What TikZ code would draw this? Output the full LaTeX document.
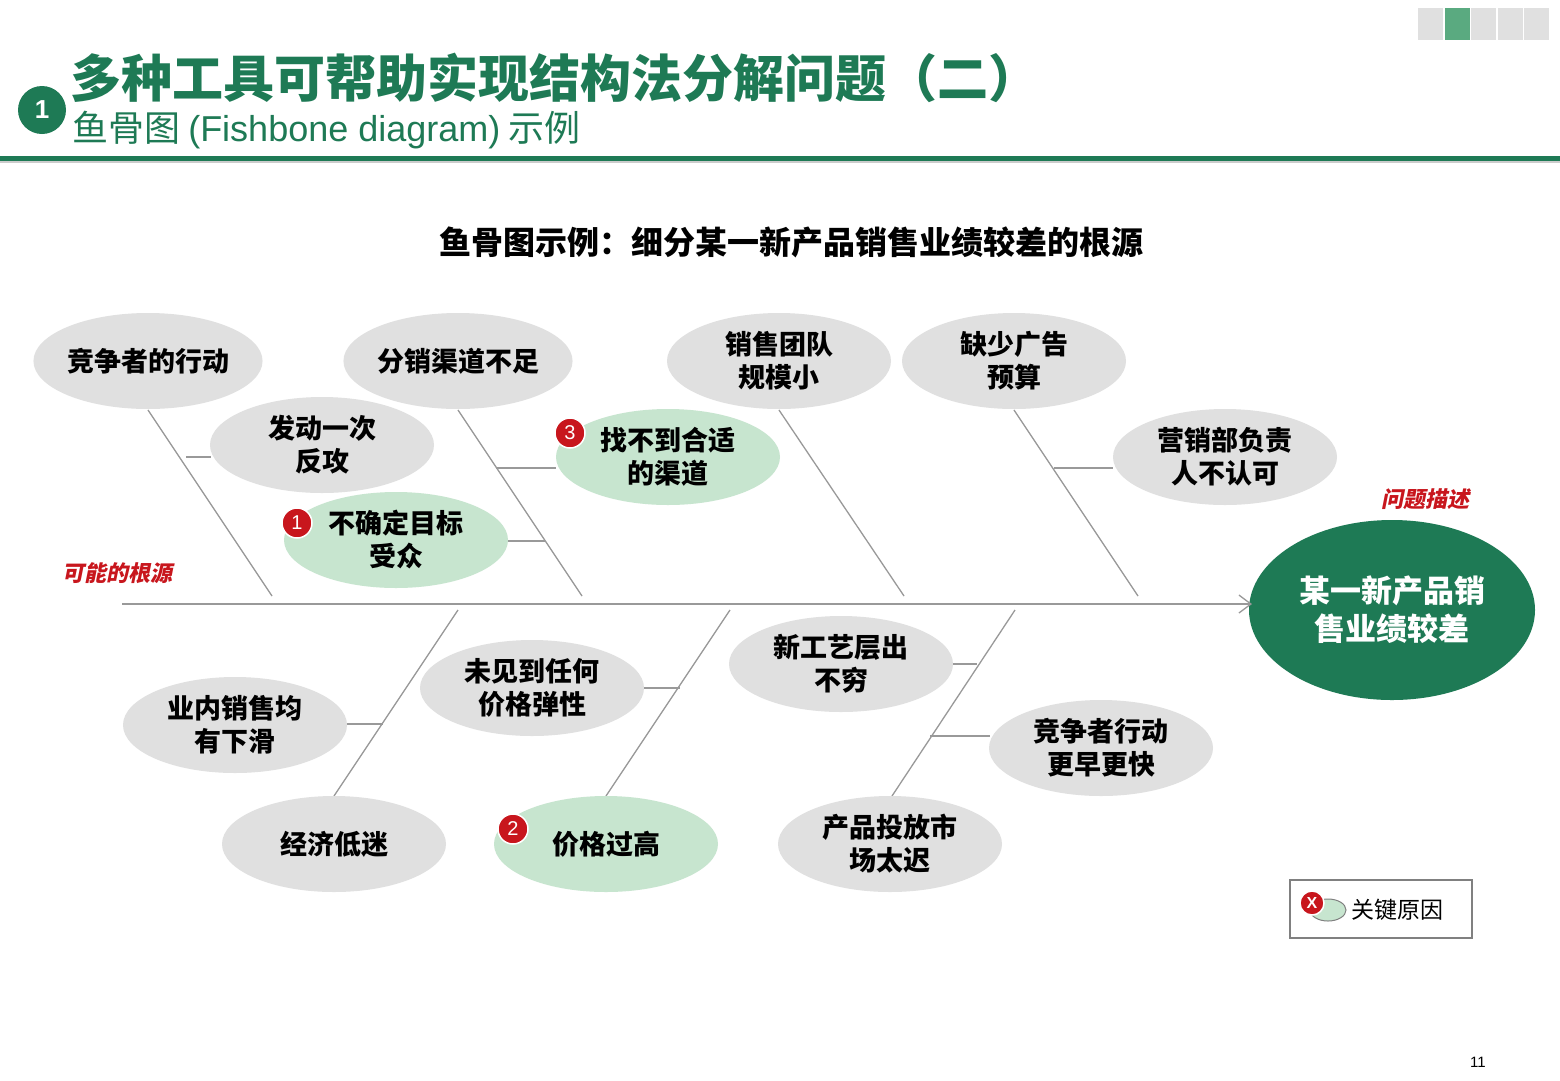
\documentclass[tikz,border=0pt]{standalone}
\usepackage{fontspec}
\setmainfont{Noto Sans CJK SC}
\newfontfamily\latin{Liberation Sans}
\newfontfamily\slcjk[FakeSlant=0.2,BoldFeatures={FakeSlant=0.2}]{Noto Sans CJK SC}
\usetikzlibrary{arrows.meta,shapes.geometric}
\definecolor{dg}{HTML}{1E7A55}
\definecolor{mg}{HTML}{5AAA80}
\definecolor{lg}{HTML}{C7E5CF}
\definecolor{gr}{HTML}{E0E0E0}
\definecolor{rd}{HTML}{C8161D}
\tikzset{
 cause/.style={ellipse,fill=gr,minimum width=224pt,minimum height=96pt,inner sep=0pt,align=center,font=\fontsize{27}{33}\selectfont\bfseries},
 key/.style={cause,fill=lg},
 bone/.style={draw=gray!80,line width=1.3pt},
 badge/.style={circle,fill=rd,draw=white,line width=1.5pt,minimum size=30pt,inner sep=0pt,text=white,font=\latin\fontsize{20}{20}\selectfont},
 redlab/.style={text=rd,font=\slcjk\fontsize{22}{22}\selectfont\bfseries},
}
\begin{document}
\begin{tikzpicture}[x=1pt,y=-1pt]
\useasboundingbox (0,0) rectangle (1560,1080);
\fill[white] (0,0) rectangle (1560,1080);
% progress
\foreach \i in {0,...,4}{\fill[gr] (1418+\i*26.5,8) rectangle ++(25,32);}
\fill[mg] (1444.5,8) rectangle ++(25,32);
% header
\node[circle,fill=dg,minimum size=48pt,inner sep=0pt,text=white,font=\latin\bfseries\fontsize{26}{26}\selectfont] (hb) at (42,110) {1};
\node[anchor=west,text=dg,inner sep=0pt,font=\fontsize{51}{51}\selectfont\bfseries] (title) at (70,78) {多种工具可帮助实现结构法分解问题（二）};
\node[anchor=west,text=dg,inner sep=0pt,font=\fontsize{36}{36}\selectfont] (sub) at (72,130) {鱼骨图 {\latin (Fishbone diagram)} 示例};
\fill[dg] (0,156) rectangle (1560,161);
\fill[gray!40] (0,161) rectangle (1560,163);
\node[font=\fontsize{32}{32}\selectfont\bfseries] (head) at (791,242) {鱼骨图示例：细分某一新产品销售业绩较差的根源};
% spine
\coordinate (s0) at (122,604);
\node[ellipse,fill=dg,minimum width=286pt,minimum height=180pt,inner sep=0pt,align=center,text=white,font=\fontsize{31}{38}\selectfont\bfseries] (prob) at (1392,610) {某一新产品销\\售业绩较差};
\draw[bone,-{Straight Barb[length=12pt,width=18pt]}] (s0) -- (1252,604) coordinate (s1);
% bones
\foreach \a/\b in {148/272,458/582,779/904,1014/1138}{\draw[bone] (\a,410) -- (\b,596);}
\foreach \a/\b in {458/334,730/606,1015/892}{\draw[bone] (\a,610) -- (\b,796);}
\draw[bone] (186,457) -- (211,457);
\draw[bone] (496,468) -- (556,468);
\draw[bone] (507,541) -- (545,541);
\draw[bone] (1054,468) -- (1113,468);
\draw[bone] (346,724) -- (383,724);
\draw[bone] (643,688) -- (680,688);
\draw[bone] (953,664) -- (977,664);
\draw[bone] (930,736) -- (990,736);
% causes
\node[cause] (c1) at (148,361) {竞争者的行动};
\node[cause] (c2) at (458,361) {分销渠道不足};
\node[cause] (c3) at (779,361) {销售团队\\规模小};
\node[cause] (c4) at (1014,361) {缺少广告\\预算};
\node[cause] (c5) at (322,445) {发动一次\\反攻};
\node[key] (c6) at (668,457) {找不到合适\\的渠道};
\node[cause] (c7) at (1225,457) {营销部负责\\人不认可};
\node[key] (c8) at (396,540) {不确定目标\\受众};
\node[cause] (c9) at (841,664) {新工艺层出\\不穷};
\node[cause] (c10) at (532,688) {未见到任何\\价格弹性};
\node[cause] (c11) at (235,725) {业内销售均\\有下滑};
\node[cause] (c12) at (1101,748) {竞争者行动\\更早更快};
\node[cause] (c13) at (334,844) {经济低迷};
\node[key] (c14) at (606,844) {价格过高};
\node[cause] (c15) at (890,844) {产品投放市\\场太迟};
\node[badge] (b1) at (297,523) {1};
\node[badge] (b3) at (570,433) {3};
\node[badge] (b2) at (513,829) {2};
\node[redlab] (l1) at (117,573) {可能的根源};
\node[redlab] (l2) at (1425,499) {问题描述};
% legend
\draw[gray,line width=1.2pt] (1290,880) rectangle (1472,938);
\node[ellipse,fill=lg,draw=gray,line width=1pt,minimum width=36pt,minimum height=22pt,inner sep=0pt] (le) at (1328,910) {};
\node[badge,minimum size=24pt,font=\latin\bfseries\fontsize{16}{16}\selectfont] (lb) at (1312,903) {X};
\node[anchor=west,font=\fontsize{23}{23}\selectfont] (lt) at (1348,910) {关键原因};
\node[font=\latin\fontsize{15}{15}\selectfont] (pg) at (1478,1062) {11};
\end{tikzpicture}
\end{document}
